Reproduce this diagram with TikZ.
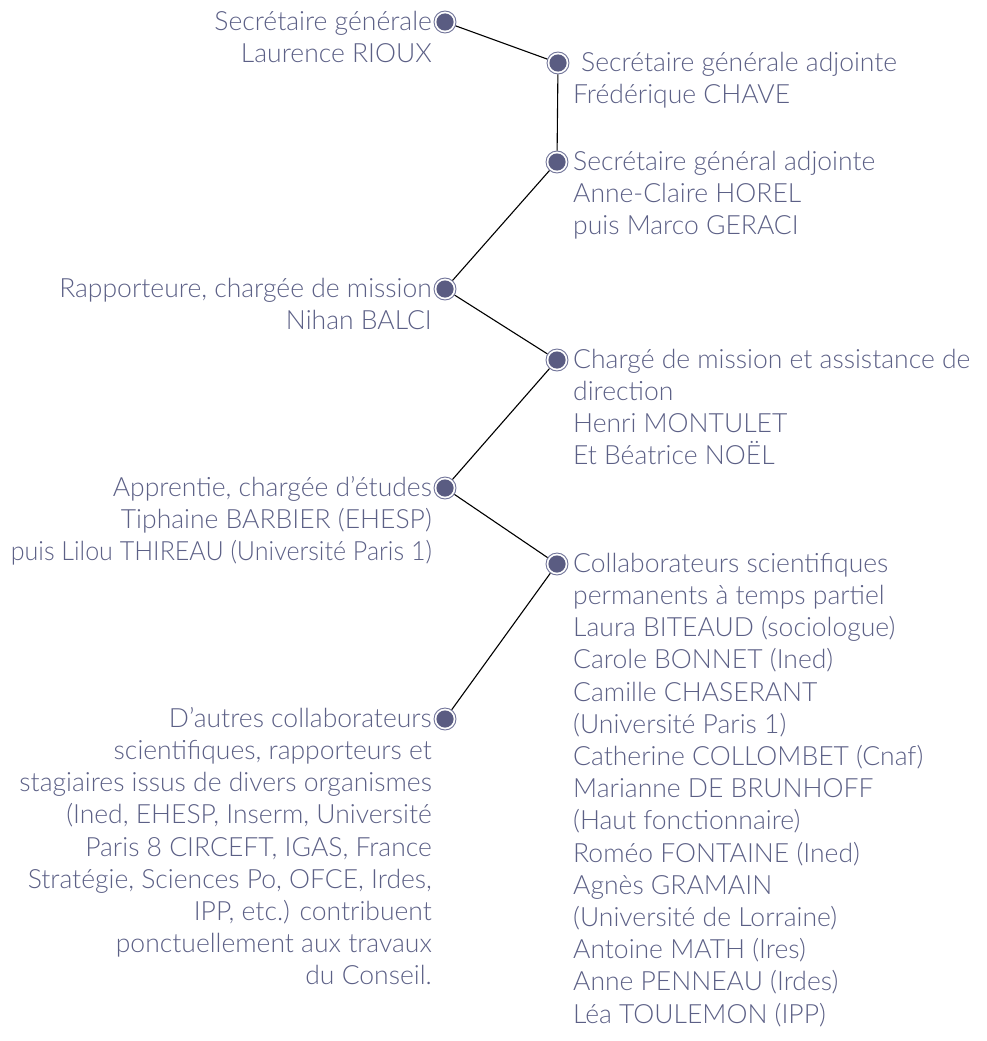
\documentclass[tikz,border=0pt]{standalone}
\usepackage{fontspec}
\usepackage{graphicx}
\setmainfont{Lato Light}
\usetikzlibrary{calc}
\definecolor{txtc}{RGB}{92,96,134}
\definecolor{dotc}{RGB}{90,92,130}
\definecolor{ringc}{RGB}{112,115,152}
\newcommand{\fl}{\rule{0pt}{25pt}}
\begin{document}
\begin{tikzpicture}[x=1pt,y=-1pt,
  dotnode/.style={circle, draw=ringc, fill=white, line width=0.9pt, minimum size=22pt, inner sep=0pt,
    path picture={\fill[dotc] (path picture bounding box.center) circle (8.6pt);}},
  conn/.style={draw=black, line width=1.1pt},
  lbl/.style={text=txtc, inner sep=0pt, font=\fontsize{26.5}{32.2}\selectfont},
  lblL/.style={lbl, align=right, anchor=north east},
  lblR/.style={lbl, align=left, anchor=north west}]
\useasboundingbox (0,0) rectangle (987,1041);
\node[dotnode] (d1) at (445,22) {};
\node[dotnode] (d2) at (558,63) {};
\node[dotnode] (d3) at (557,162) {};
\node[dotnode] (d4) at (445,289) {};
\node[dotnode] (d5) at (557,360) {};
\node[dotnode] (d6) at (445,488) {};
\node[dotnode] (d7) at (557,564) {};
\node[dotnode] (d8) at (445,719) {};
\draw[conn] (d1) -- (d2);
\draw[conn] (d2) -- (d3);
\draw[conn] (d3) -- (d4);
\draw[conn] (d4) -- (d5);
\draw[conn] (d5) -- (d6);
\draw[conn] (d6) -- (d7);
\draw[conn] (d7) -- (d8);
\node[lblL] (t1) at ($(d1)+(-13,-17)$) {\fl Secrétaire générale\\Laurence RIOUX};
\node[lblR] (t2) at ($(d2)+(15,-17)$) {\fl\hspace*{8pt}Secrétaire générale adjointe\\Frédérique CHAVE};
\node[lblR] (t3) at ($(d3)+(16,-17)$) {\fl Secrétaire général adjointe\\Anne-Claire HOREL\\puis Marco GERACI};
\node[lblL] (t4) at ($(d4)+(-13,-17)$) {\fl Rapporteure, chargée de mission\\Nihan BALCI};
\node[lblR] (t5) at ($(d5)+(16,-17)$) {\fl Chargé de mission et assistance de\\direction\\Henri MONTULET\\Et Béatrice NOËL};
\node[lblL] (t6) at ($(d6)+(-13,-17)$) {\fl Apprentie, chargée d’études\\Tiphaine BARBIER (EHESP)\\\scalebox{0.945}[1]{puis Lilou THIREAU (Université Paris 1)}};
\node[lblR] (t7) at ($(d7)+(16,-17)$) {\fl Collaborateurs scientifiques\\permanents à temps partiel\\Laura BITEAUD (sociologue)\\Carole BONNET (Ined)\\Camille CHASERANT\\(Université Paris 1)\\Catherine COLLOMBET (Cnaf)\\Marianne DE BRUNHOFF\\(Haut fonctionnaire)\\Roméo FONTAINE (Ined)\\Agnès GRAMAIN\\(Université de Lorraine)\\Antoine MATH (Ires)\\Anne PENNEAU (Irdes)\\Léa TOULEMON (IPP)};
\node[lblL] (t8) at ($(d8)+(-13,-17)$) {\fl D’autres collaborateurs\\scientifiques, rapporteurs et\\stagiaires issus de divers organismes\\(Ined, EHESP, Inserm, Université\\Paris 8 CIRCEFT, IGAS, France\\Stratégie, Sciences Po, OFCE, Irdes,\\IPP, etc.) contribuent\\ponctuellement aux travaux\\du Conseil.};
\end{tikzpicture}
\end{document}
